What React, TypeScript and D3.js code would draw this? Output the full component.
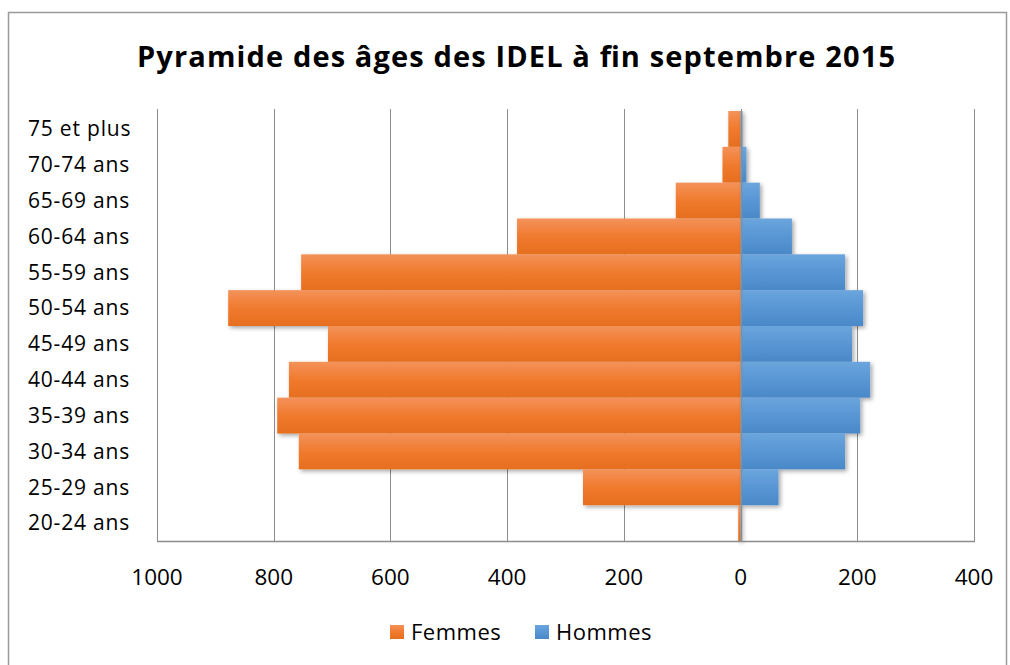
import * as d3 from 'd3';
import React from 'react';

// age groups, top to bottom as in the chart
const ageGroups = [
  '75 et plus', '70-74 ans', '65-69 ans', '60-64 ans', '55-59 ans', '50-54 ans',
  '45-49 ans', '40-44 ans', '35-39 ans', '30-34 ans', '25-29 ans', '20-24 ans'
];
const femmes = [21, 31, 111, 383, 753, 878, 707, 774, 794, 757, 270, 4];
const hommes = [3, 10, 33, 88, 179, 210, 191, 222, 205, 179, 65, 1];
const xTicks = [-1000, -800, -600, -400, -200, 0, 200, 400];

const title = 'Pyramide des âges des IDEL à fin septembre 2015';
const font = "'Open Sans', sans-serif";

const width = 1010;
const height = 665;

export default function App() {
  // plot area
  const left = 157, right = 974, top = 111, bottom = 541;

  const x = d3.scaleLinear().domain([-1000, 400]).range([left, right]);
  const y = d3.scaleBand().domain(ageGroups).range([top, bottom]).padding(0);

  return (
    <svg width={width} height={height}
      style={{ position: 'absolute', left: 0, top: 0, background: '#fff' }}>
      <defs>
        <linearGradient id="gOrange" x1="0" y1="0" x2="0" y2="1">
          <stop offset="0" stopColor="#F4925A" />
          <stop offset="0.5" stopColor="#F07A2E" />
          <stop offset="1" stopColor="#E66E1E" />
        </linearGradient>
        <linearGradient id="gBlue" x1="0" y1="0" x2="0" y2="1">
          <stop offset="0" stopColor="#6BA5DD" />
          <stop offset="0.5" stopColor="#5896D4" />
          <stop offset="1" stopColor="#4A88C8" />
        </linearGradient>
        <filter id="shadow" x="-10%" y="-20%" width="130%" height="160%">
          <feDropShadow dx="2" dy="2" stdDeviation="2" floodColor="#000" floodOpacity="0.35" />
        </filter>
      </defs>

      {/* outer frame */}
      <rect x={8.5} y={12.5} width={998} height={662} fill="none" stroke="#9a9a9a" strokeWidth={1.5} />

      {/* title */}
      <text x={516} y={67} textAnchor="middle" fontFamily={font} fontWeight="bold"
        fontSize={29} fill="#000" textLength={758} lengthAdjust="spacing">{title}</text>

      {/* vertical gridlines */}
      {xTicks.map(t => (
        <line key={t} x1={Math.round(x(t)) + 0.5} x2={Math.round(x(t)) + 0.5} y1={top - 2} y2={bottom}
          stroke="#8c8c8c" strokeWidth={1} />
      ))}

      {/* bars */}
      <g filter="url(#shadow)">
        {ageGroups.map((g, i) => (
          <rect key={'f' + g} x={x(-femmes[i])} y={y(g)} width={x(0) - x(-femmes[i])}
            height={y.bandwidth()} fill="url(#gOrange)" />
        ))}
      </g>
      <g filter="url(#shadow)">
        {ageGroups.map((g, i) => (
          <rect key={'h' + g} x={x(0)} y={y(g)} width={x(hommes[i]) - x(0)}
            height={y.bandwidth()} fill="url(#gBlue)" />
        ))}
      </g>

      {/* category axis at zero */}
      <line x1={Math.round(x(0)) + 0.5} x2={Math.round(x(0)) + 0.5} y1={top} y2={bottom}
        stroke="#8c8c8c" strokeWidth={1.5} />
      {/* bottom axis line */}
      <line x1={left} x2={right + 1} y1={bottom + 0.5} y2={bottom + 0.5} stroke="#8c8c8c" strokeWidth={1.5} />

      {/* category labels */}
      {ageGroups.map(g => (
        <text key={'l' + g} x={28} y={y(g)! + y.bandwidth() / 2} dy="0.35em"
          fontFamily={font} fontSize={21} letterSpacing={0.8} fill="#000">{g}</text>
      ))}

      {/* value tick labels */}
      {xTicks.map(t => (
        <text key={'t' + t} x={x(t)} y={577} dy="0.35em" textAnchor="middle"
          fontFamily={font} fontSize={22.5} fill="#000">{Math.abs(t)}</text>
      ))}

      {/* legend */}
      <rect x={390} y={625} width={14} height={14} fill="url(#gOrange)" />
      <text x={411} y={632} dy="0.35em" fontFamily={font} fontSize={22} letterSpacing={0.5} fill="#000">Femmes</text>
      <rect x={535} y={625} width={14} height={14} fill="url(#gBlue)" />
      <text x={556} y={632} dy="0.35em" fontFamily={font} fontSize={22} letterSpacing={0.5} fill="#000">Hommes</text>
    </svg>
  );
}
